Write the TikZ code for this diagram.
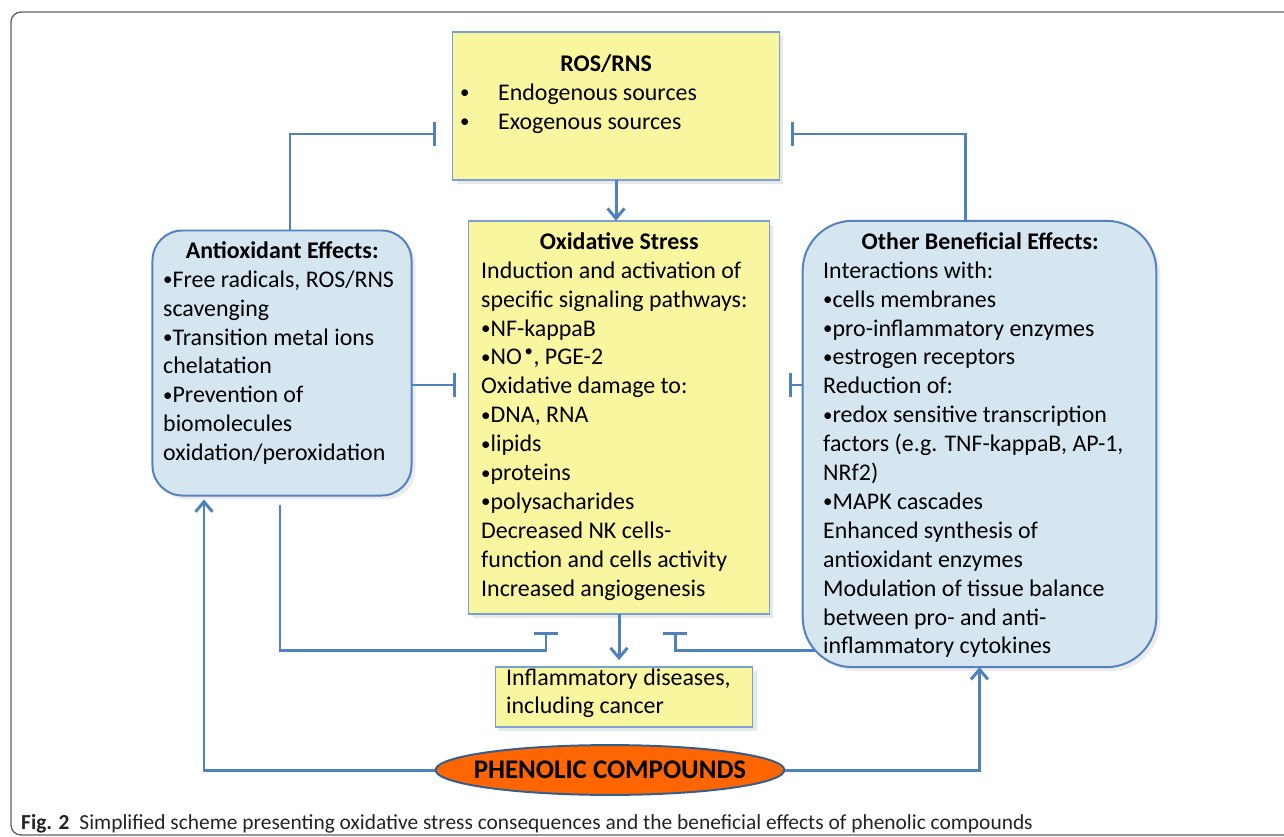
\documentclass[tikz,border=0pt]{standalone}
\usepackage{fontspec}
\setmainfont{Carlito}
\usepackage{tikz}
\usetikzlibrary{shapes.geometric, arrows.meta, positioning, calc, shadows}
\definecolor{lineblue}{RGB}{79,129,189}
\definecolor{yelfill}{RGB}{249,246,160}
\definecolor{yelborder}{RGB}{120,160,210}
\definecolor{bluefill}{RGB}{214,230,240}
\definecolor{blueborder}{RGB}{84,130,190}
\definecolor{phenfill}{RGB}{255,102,0}
\definecolor{phenborder}{RGB}{56,93,138}
\definecolor{framegray}{RGB}{95,95,95}
\definecolor{captext}{RGB}{35,35,35}
\newcommand{\bul}{\raisebox{1.5bp}{\fontsize{19}{29}\selectfont•}}

\begin{document}
\begin{tikzpicture}[
        x=1bp, y=-1bp,
        yelbox/.style={rectangle, draw=yelborder, fill=yelfill, line width=1.6pt, inner sep=0pt, outer sep=0pt,
            drop shadow={shadow xshift=4pt, shadow yshift=-4pt, opacity=0.18}},
        bluebox/.style={rectangle, rounded corners=#1, draw=blueborder, fill=bluefill, line width=2pt, inner sep=0pt, outer sep=0pt,
            drop shadow={shadow xshift=4pt, shadow yshift=-4pt, opacity=0.15}},
        boxtext/.style={anchor=north west, inner sep=0pt, align=left, font=\fontsize{24}{29}\selectfont},
        arrow/.style={-{Straight Barb[length=10pt, width=17pt]}, line width=3pt, lineblue},
        inhibit/.style={-{Bar[width=24pt]}, line width=3pt, lineblue}
    ]
    \useasboundingbox (0,0) rectangle (1284,837);

    % Outer frame of the figure
    \draw[framegray, line width=1.3pt, rounded corners=10pt] (11,12) rectangle (1310,835);

    % Boxes
    \node[yelbox, minimum width=328, minimum height=148] (ros) at (616,106) {};
    \node[yelbox, minimum width=302, minimum height=395] (ox) at (619,417.5) {};
    \node[bluebox=30pt, minimum width=260, minimum height=266] (anti) at (282,363) {};
    \node[bluebox=50pt, minimum width=355, minimum height=448] (other) at (979.5,444) {};
    \node[yelbox, minimum width=258, minimum height=60] (infl) at (624,697) {};
    \node[ellipse, draw=phenborder, fill=phenfill, line width=2pt, minimum width=350, minimum height=50, inner sep=0pt,
        font=\fontsize{27}{30}\selectfont\bfseries] (phen) at (610,770) {\makebox[0pt]{PHENOLIC COMPOUNDS}};

    % Box texts
    \node[boxtext] (ros_t) at (460,51) {\strut\makebox[292bp][c]{\bfseries ROS/RNS}\\
        \makebox[38bp][l]{\bul}Endogenous sources\\
        \makebox[38bp][l]{\bul}Exogenous sources};
    \node[boxtext] (ox_t) at (481,229) {\strut\makebox[276bp][c]{\bfseries Oxidative Stress}\\
        Induction and activation of\\
        specific signaling pathways:\\
        \bul NF-kappaB\\
        \bul NO\textsuperscript{\,•}, PGE-2\\
        Oxidative damage to:\\
        \bul DNA, RNA\\
        \bul lipids\\
        \bul proteins\\
        \bul polysacharides\\
        Decreased NK cells-\\
        function and cells activity\\
        Increased angiogenesis};
    \node[boxtext] (anti_t) at (163,238) {\strut\makebox[238bp][c]{\bfseries Antioxidant Effects:}\\
        \bul Free radicals, ROS/RNS\\
        scavenging\\
        \bul Transition metal ions\\
        chelatation\\
        \bul Prevention of\\
        biomolecules\\
        oxidation/peroxidation};
    \node[boxtext] (other_t) at (823,229) {\strut\makebox[314bp][c]{\bfseries Other Beneficial Effects:}\\
        Interactions with:\\
        \bul cells membranes\\
        \bul pro-inflammatory enzymes\\
        \bul estrogen receptors\\
        Reduction of:\\
        \bul redox sensitive transcription\\
        factors (e.g. TNF-kappaB, AP-1,\\
        NRf2)\\
        \bul MAPK cascades\\
        Enhanced synthesis of\\
        antioxidant enzymes\\
        Modulation of tissue balance\\
        between pro- and anti-\\
        inflammatory cytokines};
    \node[boxtext, font=\fontsize{24}{28}\selectfont] (infl_t) at (506,666) {\strut Inflammatory diseases,\\
        including cancer};

    % Caption
    \node[anchor=base west, inner sep=0pt, text=captext, font=\fontsize{21.5}{24}\selectfont] (caption) at (21,829)
        {\textbf{Fig. 2}\hspace{10bp}Simplified scheme presenting oxidative stress consequences and the beneficial effects of phenolic compounds};

    % Activation arrows
    \draw[arrow] (ros.south) -- (ros.south |- ox.north);
    \draw[arrow, shorten >=7pt] (ox.south) -- (ox.south |- infl.north);
    \draw[arrow, shorten >=4pt] (phen.west) -| ($(anti.south)+(-78,0)$);
    \draw[arrow] (phen.east) -| (other.south);

    % Inhibition of ROS/RNS
    \draw[inhibit] ($(anti.north)+(8,0)$) |- ($(ros.west)+(-17,28)$);
    \draw[inhibit] ($(other.north)+(-14,0)$) |- ($(ros.east)+(12,28)$);

    % Inhibition of oxidative stress
    \coordinate (midl) at ($(anti.east)+(0,22)$);
    \draw[inhibit, shorten >=13pt] (midl) -- (midl -| ox.west);
    \coordinate (midr) at ($(other.west)+(0,-59)$);
    \draw[inhibit, shorten >=20pt] (midr) -- (midr -| ox.east);

    % Inhibition of inflammatory diseases
    \draw[inhibit] ($(anti.south)+(-2,9)$) |- ($(ox.south)+(-73,36)$) -- ($(ox.south)+(-73,18)$);
    \draw[inhibit] ($(other.south west)+(12,-17)$) -| ($(ox.south)+(56,18)$);

\end{tikzpicture}
\end{document}
